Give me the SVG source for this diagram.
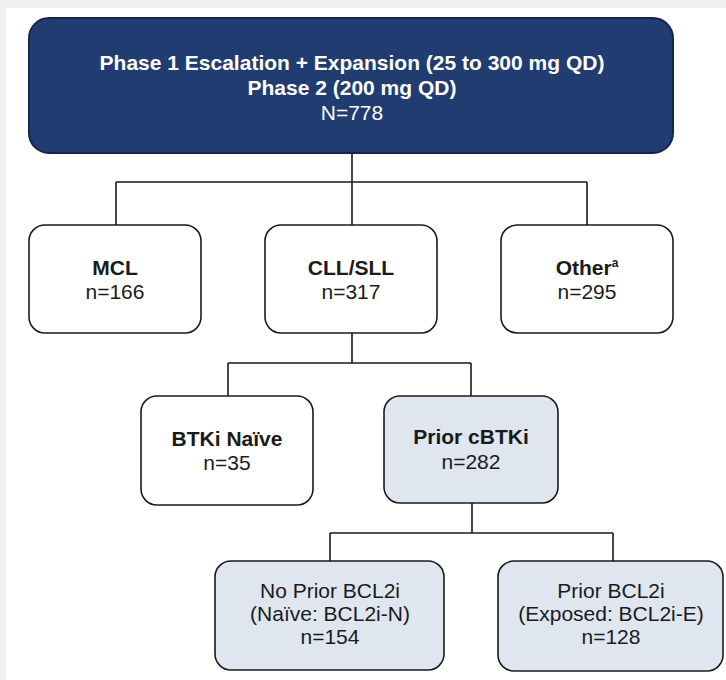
<svg xmlns="http://www.w3.org/2000/svg" width="726" height="680" viewBox="0 0 726 680">
<style>
.box{stroke:#1a1a1a;stroke-width:1.6}
.w{fill:#ffffff}
.b{fill:#dfe6f0}
.t{font-family:"Liberation Sans",Arial,sans-serif;font-size:21px;fill:#1a1a1a;text-anchor:middle}
.bold{font-weight:bold}
.top{fill:#ffffff}
.con{fill:none;stroke:#1a1a1a;stroke-width:1.6}
</style>
<rect x="0" y="0" width="726" height="680" fill="#f0f0f0"/>
<rect x="6" y="8" width="720" height="672" fill="#ffffff"/>
<g id="connectors">
<path class="con" d="M352 153 V182 M116 182 H587 M116 182 V225 M352 182 V225 M587 182 V225"/>
<path class="con" d="M352 333 V363 M228 363 H471 M228 363 V396 M471 363 V396"/>
<path class="con" d="M472 503 V533 M330 533 H613 M330 533 V561 M613 533 V561"/>
</g>
<g id="n-total">
<rect x="29" y="18" width="644" height="135" rx="20" fill="#203c70" stroke="#14264a" stroke-width="2"/>
<text class="t top bold" x="352" y="70">Phase 1 Escalation + Expansion (25 to 300 mg QD)</text>
<text class="t top bold" x="352" y="95">Phase 2 (200 mg QD)</text>
<text class="t top" x="352" y="120">N=778</text>
</g>
<g id="n-mcl">
<rect class="box w" x="29" y="225" width="172" height="108" rx="16"/>
<text class="t bold" x="115" y="275">MCL</text>
<text class="t" x="115" y="299">n=166</text>
</g>
<g id="n-cll">
<rect class="box w" x="265" y="225" width="172" height="108" rx="16"/>
<text class="t bold" x="351" y="275">CLL/SLL</text>
<text class="t" x="351" y="299">n=317</text>
</g>
<g id="n-other">
<rect class="box w" x="501" y="225" width="172" height="108" rx="16"/>
<text class="t bold" x="587" y="275">Other<tspan font-size="12" dy="-8">a</tspan></text>
<text class="t" x="587" y="299">n=295</text>
</g>
<g id="n-naive">
<rect class="box w" x="141" y="396" width="172" height="109" rx="16"/>
<text class="t bold" x="227" y="446">BTKi Naïve</text>
<text class="t" x="227" y="470">n=35</text>
</g>
<g id="n-prior">
<rect class="box b" x="384" y="396" width="174" height="107" rx="16"/>
<text class="t bold" x="471" y="444">Prior cBTKi</text>
<text class="t" x="471" y="469">n=282</text>
</g>
<g id="n-bcl2n">
<rect class="box b" x="215" y="561" width="229" height="109" rx="16"/>
<text class="t" x="330" y="598">No Prior BCL2i</text>
<text class="t" x="330" y="621">(Naïve: BCL2i-N)</text>
<text class="t" x="330" y="644">n=154</text>
</g>
<g id="n-bcl2e">
<rect class="box b" x="498" y="561" width="225" height="110" rx="16"/>
<text class="t" x="611" y="598">Prior BCL2i</text>
<text class="t" x="611" y="621">(Exposed: BCL2i-E)</text>
<text class="t" x="611" y="644">n=128</text>
</g>
</svg>
